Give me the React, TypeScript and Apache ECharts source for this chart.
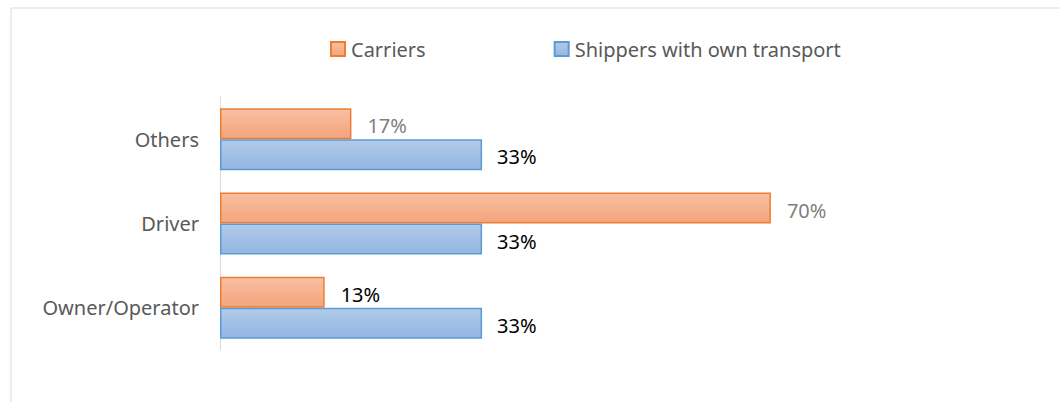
import React, { useEffect, useRef } from "react";
import * as echarts from "echarts";

const categories = ["Owner/Operator", "Driver", "Others"];
const carriers = [13.3, 70, 16.7];
const shippers = [33.3, 33.3, 33.3];
const carrierLabelColors = ["#000000", "#7f7f7f", "#7f7f7f"];
const seriesNames = ["Carriers", "Shippers with own transport"];

const FONT = "Noto Sans";
const FS = 20;

export default function App() {
  const ref = useRef<HTMLDivElement>(null);
  useEffect(() => {
    const chart = echarts.init(ref.current!, undefined, { renderer: "svg" });
    const orangeFill = new echarts.graphic.LinearGradient(0, 0, 0, 1, [
      { offset: 0, color: "#f8c0a2" },
      { offset: 1, color: "#f4a47c" },
    ]);
    const blueFill = new echarts.graphic.LinearGradient(0, 0, 0, 1, [
      { offset: 0, color: "#b1cbe9" },
      { offset: 1, color: "#93b6e3" },
    ]);
    chart.setOption({
      animation: false,
      backgroundColor: "#ffffff",
      textStyle: { fontFamily: FONT },
      graphic: [
        {
          type: "rect",
          shape: { x: 11, y: 8, width: 1100, height: 450 },
          style: { fill: "none", stroke: "#d9d9d9", lineWidth: 1 },
          silent: true,
        },
      ],
      legend: {
        data: seriesNames,
        top: 34,
        left: 325,
        itemWidth: 14,
        itemHeight: 14,
        itemGap: 128,
        icon: "rect",
        textStyle: { color: "#595959", fontSize: FS, fontFamily: FONT, padding: [0, 0, 0, 1] },
      },
      grid: { left: 220, right: 53, top: 97, bottom: 52 },
      xAxis: {
        type: "value",
        min: 0,
        max: 100,
        show: false,
        splitLine: { show: false },
      },
      yAxis: {
        type: "category",
        data: categories,
        axisLine: { show: true, lineStyle: { color: "#d9d9d9", width: 1 } },
        axisTick: { show: false },
        axisLabel: { color: "#595959", fontSize: FS, margin: 21, fontFamily: FONT },
      },
      series: [
        {
          name: seriesNames[0],
          type: "bar",
          data: carriers.map((v, i) => ({ value: v, label: { color: carrierLabelColors[i] } })),
          barWidth: 31,
          barGap: "0%",
          itemStyle: { color: orangeFill, borderColor: "#ed7d31", borderWidth: 1.5 },
          label: {
            show: true,
            position: "right",
            distance: 16,
            offset: [0, 2],
            color: "#7f7f7f",
            fontSize: FS,
            fontFamily: FONT,
            formatter: (p: any) => Math.round(p.value) + "%",
          },
        },
        {
          name: seriesNames[1],
          type: "bar",
          data: shippers,
          barWidth: 31,
          barGap: "0%",
          itemStyle: { color: blueFill, borderColor: "#5b9bd5", borderWidth: 1.5 },
          label: {
            show: true,
            position: "right",
            distance: 15,
            offset: [0, 2],
            color: "#000000",
            fontSize: FS,
            fontFamily: FONT,
            formatter: (p: any) => Math.round(p.value) + "%",
          },
        },
      ],
    });
    return () => chart.dispose();
  }, []);
  return (
    <div
      ref={ref}
      style={{ position: "fixed", left: 0, top: 0, width: 1060, height: 402 }}
    />
  );
}
